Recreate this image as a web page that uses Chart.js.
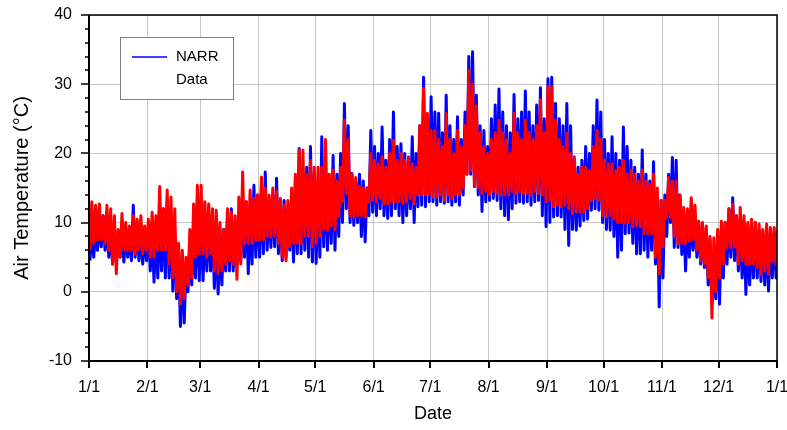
<!DOCTYPE html>
<html>
<head>
<meta charset="utf-8">
<script src="https://cdn.jsdelivr.net/npm/chart.js@4.4.1/dist/chart.umd.min.js"></script>
<style>
  html, body { margin: 0; padding: 0; background: #ffffff; }
  #wrap { width: 787px; height: 430px; }
</style>
</head>
<body>
<div id="wrap"><canvas id="c" width="787" height="430"></canvas></div>
<script>
// Month start positions (day of year) and their tick labels
const monthDays = [0, 31, 59, 90, 120, 151, 181, 212, 243, 273, 304, 334, 365];
const monthLabels = ["1/1", "2/1", "3/1", "4/1", "5/1", "6/1", "7/1", "8/1", "9/1", "10/1", "11/1", "12/1", "1/1"];

// Two-day blocks (block k covers days 2k..2k+2): low and high of each series (°C)
const narrLow = [
  4.5, 5, 6, 6.5, 6, 5, 4, 4.5, 5, 4.3, 5, 4.5, 5, 4.5, 4, 4.5,
  3, 1.4, 2, 3, 2, 2, 0.1, -1, -5, -4.5, 0, 1, 2, 1.6,
  1.6, 3, 3, 0.5, -0.3, 1, 3, 3, 3, 4, 4.5, 5, 2.6, 4, 5, 5, 5.5, 6, 6.4, 6.5, 5.5, 4.5, 5, 6, 4.3, 5.5, 5.5, 6, 5, 4.3,
  4.1, 5, 6.5, 6, 7, 6, 8, 10, 12, 10, 9.6, 10, 8, 7.2, 11, 11.5, 11, 12, 11, 10.6, 11, 12, 11, 10, 11, 12, 10, 12.3, 12.5, 12.3, 13,
  13, 12.5, 13, 12.8, 13, 12.5, 13, 12.5, 14, 17, 17, 15.2, 14, 11.6, 13, 13.2, 13.5, 13.2, 12, 11, 10.4, 12, 12.8, 13, 12.8, 13, 12.5, 13, 13.2, 11,
  9.4, 10, 10.8, 11, 10.8, 9, 6.7, 9, 8.9, 9.5, 10.3, 10.5, 11.8, 12, 11.8, 10, 9, 8.9, 8, 5, 6, 8.4, 8.5, 7, 5.5, 5.5, 6, 5, 6, 4, -2.2, 2,
  8, 10, 6.4, 6.4, 5.4, 3, 5, 6, 5, 4, 3.5, 1, -1.8, -1, -1.8, 2, 4, 5, 4.5, 3, 2, -0.4, 1, 2, 2, 1.5, 1, 0.1, 2, 2
];
const narrHigh = [
  8.5, 9, 10, 11, 10, 9, 8.5, 8, 9, 8.6, 8, 12.5, 10, 9, 8.5, 9,
  9, 10, 11, 12, 13, 10, 9, 6, 5, 4, 7, 9, 12, 11,
  10, 11, 10, 9, 8, 9, 11, 12, 10, 11, 12, 13, 12, 15.4, 14, 15, 17.3, 13, 14, 16.4, 13, 13.2, 12, 13, 16, 20.7, 17, 18, 21, 17,
  15, 22.4, 18, 16, 19.7, 17, 20, 27.2, 24, 17.1, 16, 17, 16, 15, 23.3, 21, 20, 23.8, 19, 22, 26, 21, 21.4, 20, 19, 22.4, 20, 24, 31, 25, 28.2,
  26, 25.8, 23, 28.4, 24, 22, 25.3, 22, 26, 34, 34.7, 28.4, 24, 23.3, 21, 25, 27, 29.3, 26, 24, 23, 28.5, 25, 26, 29, 26, 24, 27, 29.5, 25,
  30.8, 31, 27.2, 25, 24, 27.2, 24, 19, 18, 19, 21, 20, 24, 27.7, 26, 22, 20, 22.4, 20, 19, 23.8, 21, 19, 18, 17, 20.5, 17, 16, 18.8, 14, 13.2, 14,
  17, 19.4, 19, 14, 11.2, 11, 12, 11, 10, 9.5, 8, 7.5, 6, 8, 9, 10, 12, 13.6, 11, 10.5, 10, 9, 9, 10, 9, 8.5, 9, 9, 8.5, 8.5
];
const dataLow = [
  6, 7, 7.5, 7.5, 7, 6, 4, 2.6, 5, 6, 6, 6, 5.5, 6, 5.5, 6,
  5, 5, 6, 6, 6, 4, 2, 0, -1.8, -1, 1, 2, 5, 5.5,
  5.5, 5, 5.5, 3, 2.6, 3, 4, 4.5, 4, 1.8, 4, 6.9, 7, 7, 7.4, 7.5, 7.5, 8, 7.9, 8, 7, 5, 4.5, 6.5, 7, 7, 7, 8, 8, 6.5,
  7, 8, 9, 8.9, 9.5, 9, 11, 13, 14.2, 11, 10.8, 11, 11, 10.8, 13, 13.2, 13, 13.5, 12.7, 12.7, 13, 13, 13, 12.7, 13, 13.5, 12.7, 14, 14, 14, 14,
  13.7, 13.7, 14, 13.2, 14, 13.5, 14, 14, 15, 17, 17.5, 15.2, 15, 14.2, 14.5, 14, 14.5, 14.2, 14, 14, 14, 14.5, 14.2, 14.5, 14.2, 14.2, 14, 14.5, 14.2, 14,
  13, 13.2, 12.3, 12.5, 12.3, 12.5, 12, 11.3, 11.5, 11.5, 11.5, 12, 13.2, 13.5, 13.2, 11, 10.8, 11, 10.5, 10, 10, 9.9, 10, 9.4, 9.5, 9.4, 8.4, 8.4, 8.4, 5, 2.6, 6.5,
  10.7, 10.7, 8, 6.9, 7, 7, 7.3, 7.5, 6, 4.5, 4, 2, -3.8, 0, 2, 4, 6.4, 6.4, 6.5, 4, 4.5, 4, 4, 4, 3.5, 2.5, 3, 2.5, 4.4, 4
];
const dataHigh = [
  13, 12.5, 12.7, 11, 12.5, 12, 11, 9, 11.3, 10, 9.5, 11, 10.5, 11, 9.5, 10.5,
  11.5, 11, 15.2, 12, 14.7, 13.7, 12, 7, 6, 5, 9, 12.7, 15.4, 15.4,
  13, 12.7, 12, 11.8, 10, 9, 12, 11.5, 11, 13.7, 17.3, 13, 14.7, 13.5, 14, 16.6, 15, 14, 15, 14.5, 13.5, 12.5, 13.2, 15, 17, 20.5, 20.5, 17, 19, 18,
  18, 18, 22, 17, 17.6, 16, 18, 24.8, 22, 17, 16.5, 15.2, 15, 15, 20, 19, 18.5, 19.5, 18, 20, 21.9, 19, 20, 19, 19.5, 18.5, 18, 24, 29.4, 25.8, 23.3,
  23.3, 22, 21, 25.8, 22, 20, 23.3, 21, 24, 32, 30, 26.9, 23, 21, 20, 22, 23, 24.8, 23, 22, 20, 25.8, 23, 22, 24.8, 23, 22, 24, 27.8, 23,
  29.6, 29.6, 24.8, 22, 21, 22.9, 20, 19.5, 17, 18, 18, 17.5, 21, 23.3, 22, 19, 18.5, 18.5, 17.5, 18, 19, 17, 17.6, 17, 16, 17.6, 16, 15.5, 17, 15, 13.2, 13.2,
  16.5, 16, 16, 14, 12.2, 12, 13.6, 12.5, 10.2, 10, 9.5, 8, 7.8, 9, 10.2, 10, 12, 12.7, 11, 12.2, 11, 10, 10.5, 10, 9.8, 9, 9.8, 9.3, 9.3, 9
];

const seriesNames = ["NARR", "Data"];

function zigzag(lows, highs) {
  const pts = [];
  for (let k = 0; k < lows.length; k++) {
    pts.push({ x: 2 * k + 0.5, y: lows[k] });
    pts.push({ x: 2 * k + 1.5, y: highs[k] });
  }
  return pts;
}

const FONT = "'Liberation Sans', Arial, Helvetica, sans-serif";

const framePlugin = {
  id: 'frame',
  afterDatasetsDraw(chart) {
    const { ctx, chartArea: a, scales } = chart;
    ctx.save();
    ctx.strokeStyle = '#000';
    ctx.lineWidth = 1.5;
    ctx.beginPath();
    ctx.moveTo(a.left, a.top); ctx.lineTo(a.right, a.top); ctx.lineTo(a.right, a.bottom);
    ctx.stroke();
    ctx.lineWidth = 2;
    ctx.beginPath();
    ctx.moveTo(a.left, a.top); ctx.lineTo(a.left, a.bottom); ctx.lineTo(a.right, a.bottom);
    ctx.stroke();
    const xs = scales.x, ys = scales.y;
    ctx.lineWidth = 2;
    ctx.beginPath();
    monthDays.forEach(d => {
      const px = Math.round(xs.getPixelForValue(d));
      ctx.moveTo(px, a.bottom); ctx.lineTo(px, a.bottom + 7);
    });
    ctx.stroke();
    ctx.lineWidth = 1.5;
    ctx.beginPath();
    for (let v = -10; v <= 40; v += 2) {
      const py = Math.round(ys.getPixelForValue(v));
      const len = (v % 10 === 0) ? 8 : 4;
      ctx.moveTo(a.left - len, py); ctx.lineTo(a.left, py);
    }
    ctx.stroke();
    // legend
    const lx = 120, ly = 37, lw = 113, lh = 62;
    ctx.fillStyle = '#fff';
    ctx.fillRect(lx, ly, lw, lh);
    ctx.strokeStyle = '#808080';
    ctx.lineWidth = 1;
    ctx.strokeRect(lx + 0.5, ly + 0.5, lw, lh);
    const ds = chart.data.datasets;
    const narr = ds.find(d => d.label === seriesNames[0]);
    ctx.strokeStyle = narr.borderColor;
    ctx.lineWidth = 1.5;
    ctx.beginPath(); ctx.moveTo(132, 57); ctx.lineTo(167, 57); ctx.stroke();
    ctx.fillStyle = '#000';
    ctx.font = '15px ' + FONT;
    ctx.textBaseline = 'middle';
    ctx.textAlign = 'left';
    ctx.fillText(seriesNames[0], 176, 57);
    ctx.fillText(seriesNames[1], 176, 80);
    ctx.restore();
  }
};

new Chart(document.getElementById('c'), {
  type: 'line',
  data: {
    datasets: [
      { label: seriesNames[1], data: zigzag(dataLow, dataHigh), borderColor: '#ff0000', borderWidth: 3, borderJoinStyle: 'round', pointRadius: 0, tension: 0 },
      { label: seriesNames[0], data: zigzag(narrLow, narrHigh), borderColor: '#0000ff', borderWidth: 3, borderJoinStyle: 'round', pointRadius: 0, tension: 0 }
    ]
  },
  options: {
    responsive: false,
    animation: false,
    events: [],
    layout: { padding: { top: 15, right: 10, left: 0, bottom: 0 } },
    plugins: { legend: { display: false }, tooltip: { enabled: false } },
    scales: {
      x: {
        type: 'linear', min: 0, max: 365,
        afterBuildTicks: s => { s.ticks = monthDays.map(v => ({ value: v })); },
        afterFit: s => { s.height = 69; s.paddingLeft = 0; s.paddingRight = 0; },
        ticks: { autoSkip: false, maxRotation: 0, padding: 17, color: '#000', font: { family: FONT, size: 16 },
          callback: (v, i) => monthLabels[i] },
        grid: { color: '#c8c8c8', lineWidth: 1, drawTicks: false },
        border: { display: false },
        title: { display: true, text: 'Date', color: '#000', font: { family: FONT, size: 18 }, padding: { top: 0, bottom: 5 } }
      },
      y: {
        type: 'linear', min: -10, max: 40,
        afterFit: s => { s.width = 89; s.paddingTop = 0; s.paddingBottom = 0; },
        ticks: { stepSize: 10, padding: 17, color: '#000', font: { family: FONT, size: 16 } },
        grid: { color: '#c8c8c8', lineWidth: 1, drawTicks: false },
        border: { display: false },
        title: { display: true, text: 'Air Temperature (°C)', color: '#000', font: { family: FONT, size: 20 }, padding: { top: 10, bottom: 0 } }
      }
    }
  },
  plugins: [framePlugin]
});
</script>
</body>
</html>
